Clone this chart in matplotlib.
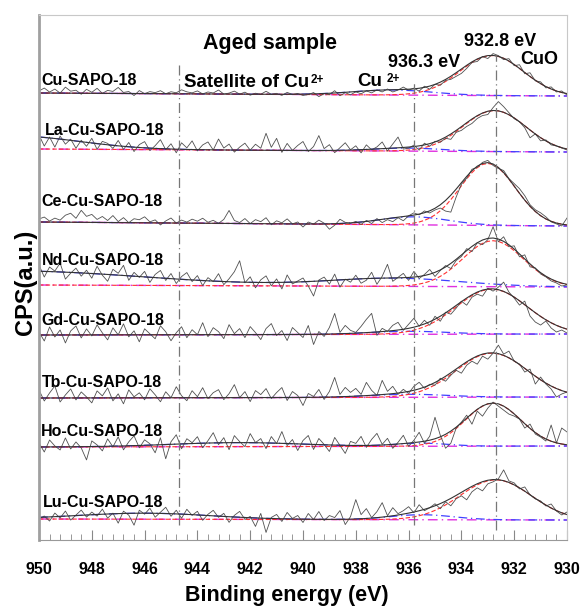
import numpy as np
import matplotlib
matplotlib.use("Agg")
import matplotlib.pyplot as plt
from matplotlib.ticker import MultipleLocator

plt.rcParams["font.family"] = ["Liberation Sans", "DejaVu Sans"]
plt.rcParams["font.weight"] = "bold"

# binding energy grid of the scans (0.2 eV step, 950 -> 930)
energy = np.linspace(950, 930, 101)

samples = ["Cu-SAPO-18", "La-Cu-SAPO-18", "Ce-Cu-SAPO-18", "Nd-Cu-SAPO-18",
           "Gd-Cu-SAPO-18", "Tb-Cu-SAPO-18", "Ho-Cu-SAPO-18", "Lu-Cu-SAPO-18"]

# raw counts above background (a.u.)
cu_raw = [2, 5, 1, 4, 0, 6, 2, 3, -1, 4,
          1, 5, 0, 3, 2, 6, 1, 2, -2, 3,
          0, 2, 1, 3, 0, 2, 1, 4, 2, 1,
          3, 0, 2, 1, 4, 0, 1, 3, 0, 2,
          -1, 1, 0, 3, 0, 1, -1, 2, 0, 1,
          -1, 0, 2, -2, 1, 0, 4, -1, 2, 0,
          3, 1, 4, 2, 5, 3, 6, 3, 5, 8,
          5, 7, 4, 9, 6, 11, 10, 15, 16, 19,
          22, 27, 33, 34, 39, 37, 42, 40, 36, 37,
          30, 31, 22, 23, 15, 14, 8, 9, 4, 5, 1]
la_raw = [14, 3, 12, 2, 13, 5, 10, 1, 9, 3,
          11, 0, 8, 6, 1, 9, 0, 7, -2, 5,
          8, -1, 4, 10, 0, 6, -3, 7, 2, 9,
          -1, 5, 8, 0, 11, 2, 6, -2, 3, 7,
          0, 6, 2, 17, 3, 12, -2, 7, 0, 5,
          9, -1, 4, 15, 2, 6, -2, 3, 8, 1,
          5, -2, 6, 1, 4, 9, 0, 7, 14, 2,
          3, 6, 1, 8, 5, 10, 9, 13, 12, 19,
          21, 25, 28, 33, 36, 37, 44, 50, 45, 39,
          33, 30, 24, 14, 18, 11, 12, 7, 6, 4, 2]
ce_raw = [3, 5, 1, 4, 2, 7, 9, 4, 12, 6,
          8, 3, 6, 2, 7, 1, 5, 0, 4, 3,
          6, 1, 3, -2, 2, 5, 0, 3, 1, 4,
          2, 5, 1, 3, 0, 4, 13, 3, 1, 5,
          0, 4, 2, 6, -1, 3, 1, 5, 0, 2,
          -3, 2, 0, 4, 1, -5, -1, 5, 2, 1,
          3, 0, 4, 1, 6, 2, 5, 3, 7, 4,
          9, 12, 10, 14, 12, 15, 17, 14, 13, 28,
          41, 47, 56, 58, 63, 65, 60, 57, 55, 47,
          42, 37, 30, 21, 16, 13, 9, 4, 2, 0, 8]
nd_raw = [20, 8, 18, 14, 22, 6, 12, 17, 9, 15,
          7, 19, 10, 4, 16, 12, 20, 5, 13, 8,
          14, 3, 11, 15, 5, 12, 2, 9, 13, 4,
          10, 0, 8, 4, 12, 1, 7, 14, 25, 3,
          9, -2, 6, 10, 0, 7, -3, 11, 2, 5,
          8, 0, -10, 6, 9, 2, 12, -1, 7, 4,
          11, 3, 6, 14, 2, 10, 22, 5, 9, 13,
          6, 15, 8, 12, 17, 10, 16, 21, 18, 26,
          30, 38, 35, 44, 42, 47, 60, 45, 50, 40,
          41, 30, 32, 20, 19, 13, 10, 6, 4, 1, 2]
gd_raw = [3, -6, 8, -2, 5, -8, 4, 9, -3, 6,
          -1, 10, 2, -5, 7, 0, 11, -2, 4, -7,
          6, 1, -4, 9, 3, -6, 2, 8, -3, 5,
          0, 12, -2, 7, 3, -4, 10, 1, 6, -3,
          8, 2, -5, 6, 11, -1, 4, -6, 7, 2,
          -3, 9, -10, 3, -2, 7, 21, 2, 9, 4,
          2, 8, 15, 21, -1, 6, 3, 9, 12, 4,
          10, 16, 8, 14, 9, 18, 13, 22, 20, 26,
          33, 29, 37, 40, 38, 46, 43, 47, 52, 42,
          36, 29, 33, 18, 12, 9, 13, 6, 2, 4, 1]
tb_raw = [8, -3, 5, 12, -4, 3, 9, -2, 6, 1,
          -5, 7, 2, 10, -3, 4, -6, 8, 1, 5,
          -2, 9, 3, -4, 6, 0, 11, 2, -3, 7,
          1, 10, -1, 5, 8, -2, 4, 13, 0, 6,
          -4, 7, 3, 9, -1, 5, 10, -3, 6, 2,
          -8, 4, 1, 8, -2, 6, 20, 3, 10, 5,
          9, 3, 15, 7, 2, 17, 6, 11, 3, 8,
          4, 11, 15, 9, 13, 12, 19, 16, 22, 27,
          24, 32, 36, 33, 41, 38, 44, 52, 43, 46,
          36, 33, 25, 28, 13, 20, 13, 8, 0, 3, 5]
ho_raw = [4, -5, 7, 1, -3, 9, -2, 5, -1, -13,
          6, 2, -4, 8, 0, 10, -3, 5, 11, -1,
          7, 3, -6, 9, -12, 5, 12, -2, 8, 4,
          10, -1, 6, 14, 2, 9, -3, 11, 5, 0,
          13, 4, 8, -2, 10, 3, 15, 1, 7, -4,
          6, 11, -3, 8, 2, -5, 9, 1, -7, 5,
          3, 10, -1, 7, 13, 2, 8, -2, 4, 11,
          0, 6, 14, 3, 10, 29, 11, -2, 3, 18,
          24, 31, 22, 35, 30, 38, 44, 40, 36, 32,
          30, 27, 18, 22, 12, 9, 5, 21, 3, 18, 14]
lu_raw = [0, 3, -2, 6, 1, 8, -1, 4, 9, 2,
          7, 3, 10, 1, 6, -4, 8, 4, -6, 9,
          5, 11, 2, 7, 12, 3, 9, 1, 10, 4,
          8, -1, 5, 9, 2, 6, -3, 4, 8, 0,
          3, -7, 6, -13, 2, 5, -2, 7, 1, 4,
          -3, 6, 0, 8, -1, 4, 2, 9, -5, 3,
          20, 5, 11, 2, 8, 17, 4, 12, 6, 9,
          13, 7, 15, 9, 12, 16, 11, 18, 14, 21,
          24, 20, 28, 32, 29, 36, 38, 41, 50, 39,
          37, 31, 33, 25, 21, 19, 14, 16, 9, 5, 8]
raws = [cu_raw, la_raw, ce_raw, nd_raw, gd_raw, tb_raw, ho_raw, lu_raw]

# stacking: background level at 950 eV and 930 eV
base_left = [447, 391, 318, 255, 205, 142, 93, 21]
base_right = [444, 388, 314, 253, 206, 143, 94, 20]

# fitted peaks: CuO main peak, Cu2+ shoulder, broad high-BE part
main_center = [932.85, 932.75, 933.0, 932.8, 932.85, 932.85, 932.8, 932.7]
main_height = [40, 41, 62, 46, 45, 44, 43, 40]
main_width = [1.2, 1.2, 1.05, 1.15, 1.35, 1.35, 1.05, 1.35]
sat_center = [936.6, 936.0, 935.8, 936.5, 936.0, 936.0, 935.5, 935.5]
sat_height = [5, 3, 8, 8, 3, 3, 3, 5]
sat_width = [1.5, 1.3, 1.3, 2.5, 1.5, 1.5, 1.0, 1.2]
wide_center = [950, 951, 950, 951, 950, 950, 942.5, 946]
wide_height = [0, 13, 0, 14, 0, 0, 4, 6]
wide_width = [3, 2.5, 3, 5, 3, 3, 2.5, 2.5]

label_x = [949.9, 949.78, 949.9, 949.9, 949.9, 949.9, 949.92, 949.85]
label_y = [455, 405, 334, 275, 215, 153, 104, 33]


def gauss(x, c, h, w):
    return h * np.exp(-(x - c) ** 2 / (2 * w ** 2))


fig = plt.figure(figsize=(5.81, 6.06), dpi=100)
ax = fig.add_axes([39 / 581, 66 / 606, 528 / 581, 525 / 606])

for i in range(len(samples)):
    bg = base_left[i] + (base_right[i] - base_left[i]) * (950 - energy) / 20
    main = gauss(energy, main_center[i], main_height[i], main_width[i])
    sat = gauss(energy, sat_center[i], sat_height[i], sat_width[i])
    wide = gauss(energy, wide_center[i], wide_height[i], wide_width[i])
    ax.plot(energy, bg, color="#e030e0", lw=1.0, ls=(0, (7, 3, 1, 3)))
    ax.plot(energy, bg + sat + wide, color="#4040ff", lw=0.9, ls=(0, (7, 3, 1, 3)))
    ax.plot(energy, bg + main, color="#ff3030", lw=0.8, ls=(0, (4, 2)))
    ax.plot(energy, bg + np.array(raws[i]), color="#505050", lw=0.6)
    ax.plot(energy, bg + main + sat + wide, color="#333333", lw=0.8)
    ax.text(label_x[i], label_y[i], samples[i], fontsize=11.5, fontweight="bold",
            ha="left", va="baseline")

dashdot = (0, (8, 3, 1, 3))
ax.axvline(944.7, ymin=0.029, ymax=0.91, color="#777777", lw=0.9, ls=dashdot)
ax.axvline(935.8, ymin=0.029, ymax=0.876, color="#777777", lw=0.9, ls=dashdot)
ax.axvline(932.7, ymin=0.019, ymax=0.924, color="#777777", lw=0.9, ls=dashdot)

ax.text(941.25, 491, "Aged sample", fontsize=15.5, fontweight="bold", ha="center", va="baseline")
ax.text(932.54, 494, "932.8 eV", fontsize=13, fontweight="bold", ha="center", va="baseline")
ax.text(935.4, 473, "936.3 eV", fontsize=13, fontweight="bold", ha="center", va="baseline")
ax.text(931.06, 476, "CuO", fontsize=13, fontweight="bold", ha="center", va="baseline")
ax.text(937.95, 454, "Cu", fontsize=13.5, fontweight="bold", ha="left", va="baseline")
ax.text(936.85, 458, "2+", fontsize=8.5, fontweight="bold", ha="left", va="baseline")
ax.text(944.5, 453, "Satellite of Cu", fontsize=13.5, fontweight="bold", ha="left", va="baseline")
ax.text(939.7, 457, "2+", fontsize=8.5, fontweight="bold", ha="left", va="baseline")

ax.set_xlim(950, 930)
ax.set_ylim(0, 525)
ax.set_yticks([])
ax.xaxis.set_major_locator(MultipleLocator(2))
ax.xaxis.set_minor_locator(MultipleLocator(0.4))
ax.tick_params(axis="x", which="major", direction="in", length=7, color="#888888",
               pad=16, labelsize=11.5)
ax.tick_params(axis="x", which="minor", direction="in", length=4, color="#888888")
for lab in ax.get_xticklabels():
    lab.set_fontweight("bold")

ax.spines["left"].set_color("#a0a0a0")
ax.spines["left"].set_linewidth(2)
ax.spines["bottom"].set_color("#999999")
ax.spines["bottom"].set_linewidth(0.8)
ax.spines["top"].set_color("#c8c8c8")
ax.spines["right"].set_color("#c8c8c8")

fig.text(287 / 581, 1 - 596 / 606, "Binding energy (eV)", fontsize=15.5,
         fontweight="bold", ha="center", va="center")
fig.text(26 / 581, 1 - 282 / 606, "CPS(a.u.)", fontsize=17, fontweight="bold",
         rotation=90, ha="center", va="center")

fig.savefig("out.png", dpi=100)
